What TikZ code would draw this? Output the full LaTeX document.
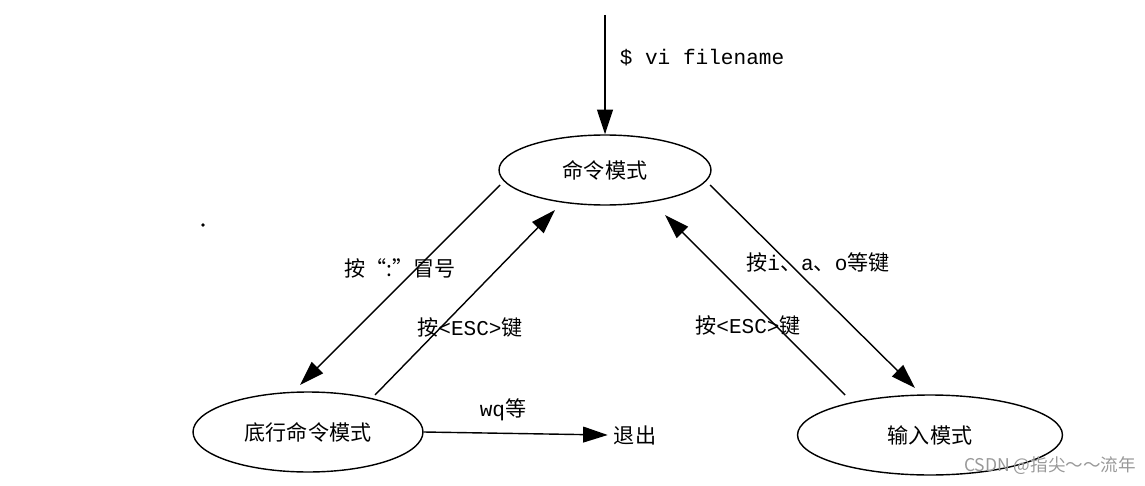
\documentclass[tikz,border=0pt]{standalone}
\usepackage{fontspec}
\setmainfont{Noto Sans CJK SC}
\newfontfamily\monof{Liberation Mono}
\usetikzlibrary{positioning, arrows.meta, calc, shapes.geometric}
\tikzset{
        my-state/.style={
            ellipse, draw, thick, inner sep=0pt, font=\large
        },
        my-arrow/.style={
            thick, -{Triangle[length=14pt, width=9pt]}
        },
}

\begin{document}
\begin{tikzpicture}[x=0.02cm, y=-0.02cm]

        \useasboundingbox (0,0) rectangle (1145,486);

        %DRAW NODES
        \node [my-state, minimum width=4.24cm, minimum height=1.4cm] (CMD)  at (605,170) {命令模式};
        \node [my-state, minimum width=4.6cm, minimum height=1.6cm] (LAST) at (308,432) {底行命令模式};
        \node [my-state, minimum width=5.3cm, minimum height=1.6cm] (INS)  at (930,435) {输入模式};
        \node [font=\large]                    (QUIT) at (635,435) {退出};

        \coordinate (start) at (605,15);
        \coordinate (c1) at (500,185);  \coordinate (l1) at (300,385);
        \coordinate (l2) at (375,395);  \coordinate (c2) at (555,210);
        \coordinate (c3) at (710,185);  \coordinate (i1) at (915,388);
        \coordinate (i2) at (845,395);  \coordinate (c4) at (665,215);
        \coordinate (dot) at (203,225);

        % LABELS
        \node [font=\monof\large]  (vi)   at (702,58)  {\$ vi filename};
        \node [font=\large]        (colon) at (400,268) {按“:”冒号};
        \node [font=\large]        (esc1) at (470,327) {按{\monof <ESC>}键};
        \node [font=\large]        (iao)  at (818,262) {按{\monof i}、{\monof a}、{\monof o}等键};
        \node [font=\large]        (esc2) at (748,325) {按{\monof <ESC>}键};
        \node [font=\large]        (wq)   at (503,410) {{\monof wq}等};
        \node [font=\normalsize, text=gray!80] (mark) at (1050,466) {CSDN @指尖～～流年};
        \fill (dot) circle (1pt);

        % CONNECT
        \draw [my-arrow] (start) -- (CMD.north);
        \draw [my-arrow] (c1) -- (l1);
        \draw [my-arrow] (l2) -- (c2);
        \draw [my-arrow] (c3) -- (i1);
        \draw [my-arrow] (i2) -- (c4);
        \draw [my-arrow] (LAST.east) -- (QUIT.west);

\end{tikzpicture}
\end{document}
